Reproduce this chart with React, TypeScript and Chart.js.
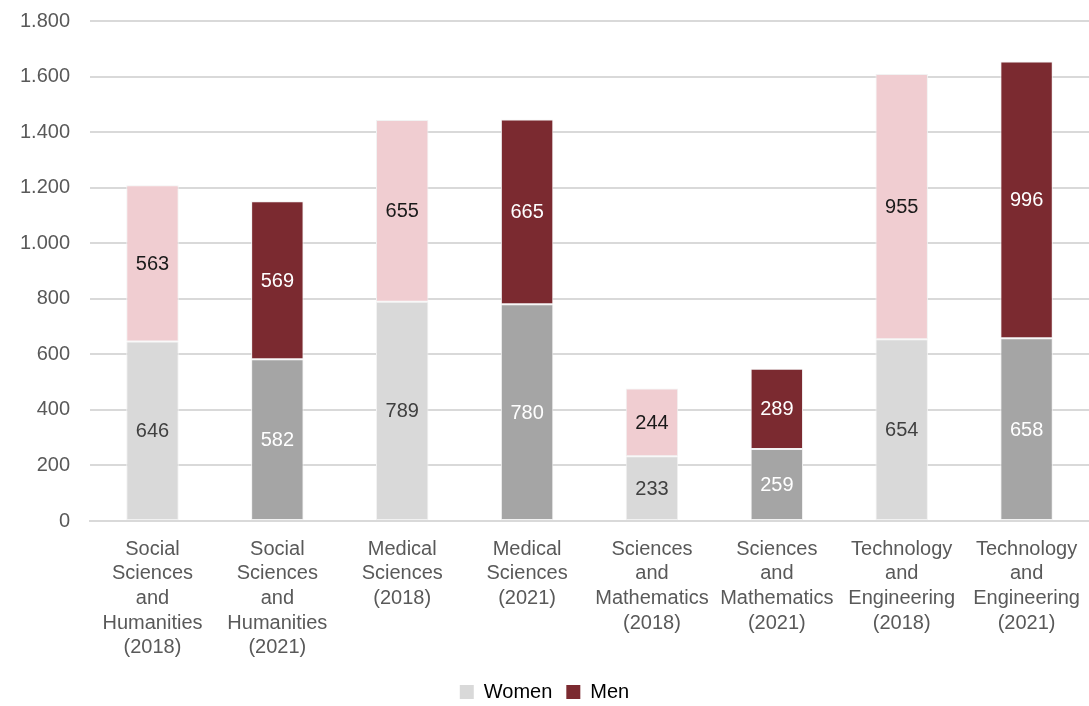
import React, { useEffect, useRef } from "react";
import { Chart, registerables } from "chart.js";

Chart.register(...registerables);

const categories: string[][] = [
  ["Social", "Sciences", "and", "Humanities", "(2018)"],
  ["Social", "Sciences", "and", "Humanities", "(2021)"],
  ["Medical", "Sciences", "(2018)"],
  ["Medical", "Sciences", "(2021)"],
  ["Sciences", "and", "Mathematics", "(2018)"],
  ["Sciences", "and", "Mathematics", "(2021)"],
  ["Technology", "and", "Engineering", "(2018)"],
  ["Technology", "and", "Engineering", "(2021)"],
];
const women = [646, 582, 789, 780, 233, 259, 654, 658];
const men = [563, 569, 655, 665, 244, 289, 955, 996];
const womenColors = ["#d9d9d9", "#a5a5a5", "#d9d9d9", "#a5a5a5", "#d9d9d9", "#a5a5a5", "#d9d9d9", "#a5a5a5"];
const menColors = ["#f0cdd1", "#7b2a30", "#f0cdd1", "#7b2a30", "#f0cdd1", "#7b2a30", "#f0cdd1", "#7b2a30"];
const womenLabelColors = ["#404040", "#ffffff", "#404040", "#ffffff", "#404040", "#ffffff", "#404040", "#ffffff"];
const menLabelColors = ["#1a1a1a", "#ffffff", "#1a1a1a", "#ffffff", "#1a1a1a", "#ffffff", "#1a1a1a", "#ffffff"];

const FONT = "'Liberation Sans', Arial, sans-serif";

const valueLabels = {
  id: "valueLabels",
  afterDatasetsDraw(chart: any) {
    const ctx = chart.ctx;
    ctx.save();
    ctx.font = `20px ${FONT}`;
    ctx.textAlign = "center";
    ctx.textBaseline = "middle";
    chart.data.datasets.forEach((ds: any, di: number) => {
      const meta = chart.getDatasetMeta(di);
      const colors = di === 0 ? womenLabelColors : menLabelColors;
      meta.data.forEach((bar: any, i: number) => {
        const y = (bar.y + bar.base) / 2;
        ctx.fillStyle = colors[i];
        ctx.fillText(String(ds.data[i]), bar.x, y + 1);
      });
    });
    ctx.restore();
  },
};

const TOP_SHIFT = 11;
const CANVAS_H = 706 + TOP_SHIFT + 10;

export default function App() {
  const ref = useRef<HTMLCanvasElement>(null);
  useEffect(() => {
    document.body.style.margin = "0";
    const chart = new Chart(ref.current!, {
      type: "bar",
      data: {
        labels: categories,
        datasets: [
          {
            label: "Women",
            data: women,
            backgroundColor: womenColors,
            borderColor: "#f2f2f2",
            borderWidth: 1,
            borderSkipped: false,
            barPercentage: 0.42,
            categoryPercentage: 1,
          },
          {
            label: "Men",
            data: men,
            backgroundColor: menColors,
            borderColor: "#f2f2f2",
            borderWidth: 1,
            borderSkipped: false,
            barPercentage: 0.42,
            categoryPercentage: 1,
          },
        ],
      },
      options: {
        animation: false,
        responsive: false,
        layout: { padding: { top: 8, left: 0, right: 0, bottom: 4 } },
        scales: {
          x: {
            stacked: true,
            grid: { display: false },
            border: { display: true, color: "#d9d9d9", width: 2 },
            ticks: {
              color: "#595959",
              font: { family: FONT, size: 20, lineHeight: 1.23 },
              maxRotation: 0,
              autoSkip: false,
              padding: 8,
            },
          },
          y: {
            stacked: true,
            min: 0,
            max: 1800,
            grid: { color: "#d9d9d9", lineWidth: 2, drawTicks: false },
            border: { display: false },
            ticks: {
              stepSize: 200,
              color: "#595959",
              font: { family: FONT, size: 20 },
              padding: 20,
              callback: (v: any) => Number(v).toString().replace(/\B(?=(\d{3})+(?!\d))/g, "."),
            },
          },
        },
        plugins: {
          legend: {
            position: "bottom",
            labels: {
              color: "#595959",
              font: { family: FONT, size: 20 },
              boxWidth: 14,
              boxHeight: 14,
              padding: 14,
              generateLabels: () => [
                { text: "Women", fillStyle: "#d9d9d9", strokeStyle: "#d9d9d9", lineWidth: 0, datasetIndex: 0 },
                { text: "Men", fillStyle: "#7b2a30", strokeStyle: "#7b2a30", lineWidth: 0, datasetIndex: 1 },
              ],
            },
          },
          tooltip: { enabled: false },
        },
      },
      plugins: [valueLabels],
    });
    return () => chart.destroy();
  }, []);
  return (
    <div style={{ width: 1089, height: 706, overflow: "hidden", position: "relative" }}>
      <canvas
        ref={ref}
        width={1089}
        height={CANVAS_H}
        style={{ width: 1089, height: CANVAS_H, position: "absolute", top: -TOP_SHIFT, left: 0 }}
      />
    </div>
  );
}
